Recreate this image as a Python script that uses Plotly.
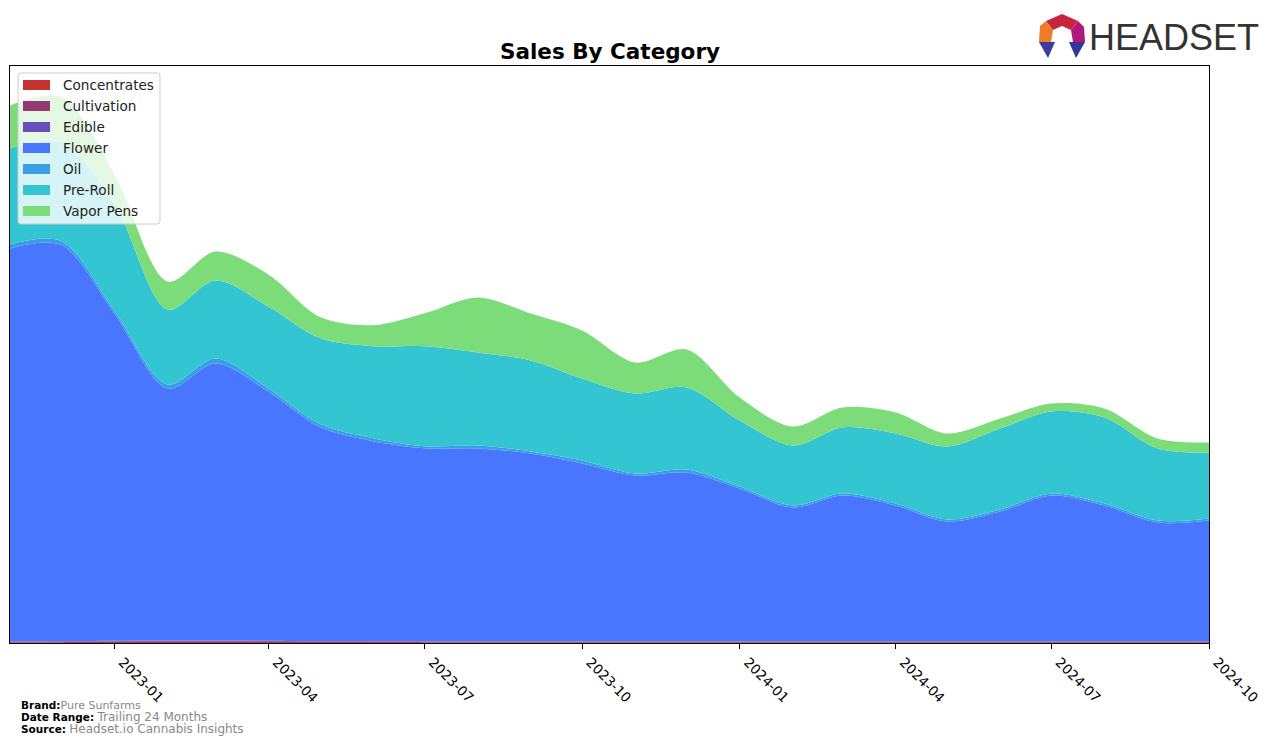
import plotly.graph_objects as go

months = ["2022-11-01", "2022-12-01", "2023-01-01", "2023-02-01", "2023-03-01", "2023-04-01",
          "2023-05-01", "2023-06-01", "2023-07-01", "2023-08-01", "2023-09-01", "2023-10-01",
          "2023-11-01", "2023-12-01", "2024-01-01", "2024-02-01", "2024-03-01", "2024-04-01",
          "2024-05-01", "2024-06-01", "2024-07-01", "2024-08-01", "2024-09-01", "2024-10-01"]

concentrates = [0.8, 0.8, 0.9, 1.0, 1.0, 1.0, 0.9, 0.9, 0.8, 0.8, 0.8, 0.8,
                0.8, 0.8, 0.8, 0.8, 0.8, 0.8, 0.8, 0.8, 0.8, 0.8, 0.8, 0.8]
cultivation = [0.6, 0.6, 0.7, 0.7, 0.7, 0.7, 0.6, 0.6, 0.6, 0.6, 0.6, 0.6,
               0.6, 0.6, 0.6, 0.6, 0.6, 0.6, 0.6, 0.6, 0.6, 0.6, 0.6, 0.6]
edible = [0.2, 0.5, 0.7, 0.8, 0.7, 0.6, 0.4, 0.3, 0.3, 0.2, 0.2, 0.2,
          0.1, 0.1, 0.1, 0.1, 0.1, 0.1, 0.1, 0.1, 0.1, 0.1, 0.1, 0.1]
flower = [393, 396, 327, 252, 277, 249, 214, 200, 193, 193, 188, 178,
          166, 169, 153, 134, 146, 136, 120, 130, 146, 136, 119, 121]
oil = [4, 4, 3, 4, 5, 3, 3, 3, 2, 3, 2, 3,
       2, 3, 2, 2, 2, 2, 2, 2, 2, 2, 2, 2]
preroll = [96, 99, 107, 75, 78, 82, 86, 92, 100, 93, 91, 82,
           80, 82, 66, 60, 66, 70, 73, 81, 82, 86, 72, 66]
vapor = [43, 45, 30, 28, 29, 32, 21, 21, 33, 55, 47, 48,
         31, 38, 23, 19, 20, 21, 13, 10, 8, 9, 10, 10]

series = [
    ("Concentrates", concentrates, "#c43232"),
    ("Cultivation", cultivation, "#933a70"),
    ("Edible", edible, "#664db8"),
    ("Flower", flower, "#4876ff"),
    ("Oil", oil, "#3a9ee6"),
    ("Pre-Roll", preroll, "#33c5d2"),
    ("Vapor Pens", vapor, "#7ddc7a"),
]

tick_vals = ["2023-01-01", "2023-04-01", "2023-07-01", "2023-10-01",
             "2024-01-01", "2024-04-01", "2024-07-01", "2024-10-01"]
tick_text = ["2023-01", "2023-04", "2023-07", "2023-10",
             "2024-01", "2024-04", "2024-07", "2024-10"]

W, H = 1276, 745
L, R, T, B = 10, 1209, 66, 643


def px(x):
    return (x - L) / (R - L)


def py(y):
    return (B - y) / (B - T)


fig = go.Figure()
for name, vals, color in series:
    fig.add_trace(go.Scatter(
        x=months, y=vals, name=name, mode="lines", showlegend=False,
        stackgroup="one", line=dict(width=0, shape="spline", smoothing=0.9, color=color),
        fillcolor=color,
    ))

shapes = []
annotations = []

# Legend drawn as a box with swatches (matches reference layout)
lx0, ly0, lx1, ly1, rr = 18, 73, 160, 224, 3
box_path = (f"M {px(lx0 + rr)},{py(ly0)} L {px(lx1 - rr)},{py(ly0)} "
            f"Q {px(lx1)},{py(ly0)} {px(lx1)},{py(ly0 + rr)} "
            f"L {px(lx1)},{py(ly1 - rr)} Q {px(lx1)},{py(ly1)} {px(lx1 - rr)},{py(ly1)} "
            f"L {px(lx0 + rr)},{py(ly1)} Q {px(lx0)},{py(ly1)} {px(lx0)},{py(ly1 - rr)} "
            f"L {px(lx0)},{py(ly0 + rr)} Q {px(lx0)},{py(ly0)} {px(lx0 + rr)},{py(ly0)} Z")
shapes.append(dict(type="path", xref="paper", yref="paper", path=box_path,
                   fillcolor="rgba(255,255,255,0.8)", line=dict(color="#cccccc", width=1),
                   layer="above"))
for i, (name, vals, color) in enumerate(series):
    cy = 85 + 21 * i
    shapes.append(dict(type="rect", xref="paper", yref="paper",
                       x0=px(23), x1=px(50), y0=py(cy - 5), y1=py(cy + 5),
                       fillcolor=color, line=dict(width=0), layer="above"))
    annotations.append(dict(text=name, x=px(61), y=py(cy), xref="paper", yref="paper",
                            xanchor="left", yanchor="middle", showarrow=False,
                            font=dict(family="DejaVu Sans", size=13.6, color="#222222")))

# Headset logo (approximation)
logo_polys = [
    ([(1046, 21), (1062, 14), (1078, 21), (1071, 30), (1062, 26), (1053, 30)], "#c8243c"),
    ([(1040, 26), (1046, 21), (1053, 30), (1051, 42), (1039, 42)], "#f07c28"),
    ([(1078, 21), (1084, 27), (1085, 42), (1073, 42), (1071, 30)], "#b01878"),
    ([(1039, 42), (1055, 42), (1048, 58)], "#3c3c9c"),
    ([(1069, 42), (1085, 42), (1076, 58)], "#34349a"),
]
for pts, col in logo_polys:
    path = "M " + " L ".join(f"{px(x):.5f},{py(y):.5f}" for x, y in pts) + " Z"
    shapes.append(dict(type="path", xref="paper", yref="paper", path=path,
                       fillcolor=col, line=dict(width=0), layer="above"))

annotations += [
    dict(text="HEADSET", x=px(1261), y=py(38), xref="paper", yref="paper",
         xanchor="right", yanchor="middle", showarrow=False,
         font=dict(family="Liberation Sans", size=36, color="#333333")),
    dict(text="<b>Brand:</b><span style='color:#888888;font-size:11px'>Pure Sunfarms</span>",
         x=px(19), y=py(705), xref="paper", yref="paper", xanchor="left", yanchor="middle",
         showarrow=False, font=dict(family="DejaVu Sans", size=10.5, color="black")),
    dict(text="<b>Date Range:</b> <span style='color:#888888;font-size:12px'>Trailing 24 Months</span>",
         x=px(19), y=py(717), xref="paper", yref="paper", xanchor="left", yanchor="middle",
         showarrow=False, font=dict(family="DejaVu Sans", size=10.5, color="black")),
    dict(text="<b>Source:</b> <span style='color:#888888;font-size:12px'>Headset.io Cannabis Insights</span>",
         x=px(19), y=py(729), xref="paper", yref="paper", xanchor="left", yanchor="middle",
         showarrow=False, font=dict(family="DejaVu Sans", size=10.5, color="black")),
]

fig.update_layout(
    width=W, height=H,
    margin=dict(l=L, r=W - R, t=T, b=H - B),
    paper_bgcolor="white", plot_bgcolor="white",
    font=dict(family="DejaVu Sans", color="black"),
    title=dict(text="<b>Sales By Category</b>", x=610 / W, xref="container", xanchor="center",
               y=1 - 51 / H, yanchor="middle", font=dict(size=21.5, family="DejaVu Sans")),
    showlegend=False,
    xaxis=dict(range=["2022-11-01", "2024-10-01"], tickvals=tick_vals, ticktext=tick_text,
               tickangle=45, ticks="outside", ticklen=5, tickcolor="black",
               ticklabelshift=8,
               showgrid=False, zeroline=False, showline=True, linecolor="black",
               linewidth=1, mirror=True, tickfont=dict(size=13.6, family="DejaVu Sans")),
    yaxis=dict(range=[0, 577], showticklabels=False, ticks="", showgrid=False,
               zeroline=False, showline=True, linecolor="black", linewidth=1, mirror=True),
    shapes=shapes,
    annotations=annotations,
)

fig.write_html("out.html")
